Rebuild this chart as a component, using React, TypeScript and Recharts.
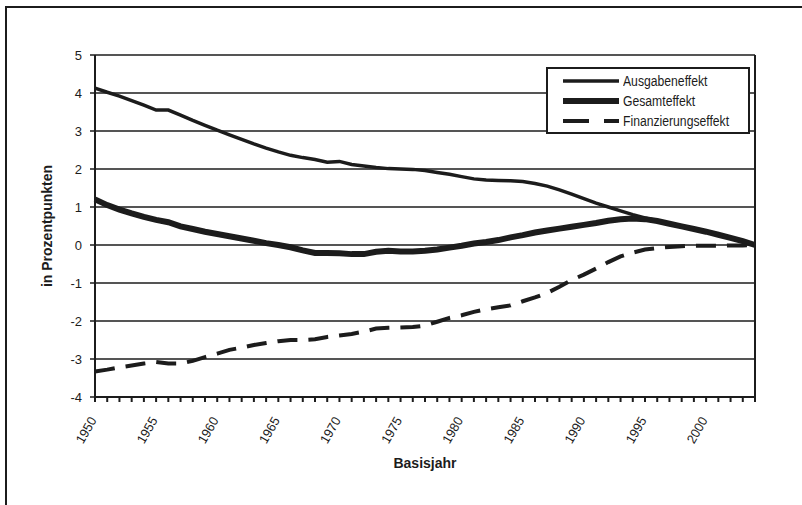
import { LineChart, Line, XAxis, YAxis, CartesianGrid, ReferenceLine } from 'recharts'

const years = [
  1950, 1951, 1952, 1953, 1954, 1955, 1956, 1957, 1958, 1959,
  1960, 1961, 1962, 1963, 1964, 1965, 1966, 1967, 1968, 1969,
  1970, 1971, 1972, 1973, 1974, 1975, 1976, 1977, 1978, 1979,
  1980, 1981, 1982, 1983, 1984, 1985, 1986, 1987, 1988, 1989,
  1990, 1991, 1992, 1993, 1994, 1995, 1996, 1997, 1998, 1999,
  2000, 2001, 2002, 2003, 2004,
]

const ausgabeneffekt = [
  4.13, 4.02, 3.92, 3.8, 3.68, 3.55, 3.55, 3.42, 3.28, 3.15,
  3.02, 2.9, 2.78, 2.66, 2.55, 2.45, 2.36, 2.3, 2.25, 2.18,
  2.2, 2.12, 2.08, 2.04, 2.01, 2.0, 1.99, 1.96, 1.91, 1.86,
  1.8, 1.74, 1.71, 1.7, 1.69, 1.67, 1.62, 1.55, 1.45, 1.34,
  1.22, 1.1, 1.0, 0.9, 0.8, 0.71, 0.64, 0.57, 0.5, 0.43,
  0.36, 0.28, 0.2, 0.1, 0.0,
]

const gesamteffekt = [
  1.2, 1.05, 0.93, 0.83, 0.74, 0.66, 0.6, 0.49, 0.42, 0.35,
  0.29, 0.23, 0.17, 0.11, 0.05, 0.0, -0.06, -0.14, -0.21, -0.21,
  -0.22, -0.24, -0.24, -0.18, -0.15, -0.17, -0.17, -0.15, -0.12, -0.07,
  -0.02, 0.04, 0.08, 0.13, 0.2, 0.26, 0.33, 0.38, 0.43, 0.48,
  0.53, 0.58, 0.64, 0.68, 0.7, 0.68, 0.63, 0.56, 0.49, 0.42,
  0.35, 0.27, 0.19, 0.1, 0.0,
]

const finanzierungseffekt = [
  -3.33, -3.28, -3.22, -3.17, -3.12, -3.08, -3.12, -3.12, -3.05, -2.95,
  -2.86, -2.76, -2.7, -2.63, -2.58, -2.53, -2.5, -2.5, -2.48, -2.42,
  -2.38, -2.34, -2.28, -2.2, -2.18, -2.17, -2.16, -2.12, -2.02, -1.92,
  -1.85, -1.76, -1.69, -1.64, -1.59, -1.48, -1.38, -1.26, -1.1, -0.92,
  -0.78, -0.62, -0.45, -0.3, -0.2, -0.12, -0.08, -0.05, -0.03, -0.02,
  -0.02, -0.02, -0.01, -0.01, 0.0,
]

const yTicks = [-4, -3, -2, -1, 0, 1, 2, 3, 4, 5]

const data = years.map((year, i) => ({
  year,
  Ausgabeneffekt: ausgabeneffekt[i],
  Gesamteffekt: gesamteffekt[i],
  Finanzierungseffekt: finanzierungseffekt[i],
}))

const ink = '#1c1c1c'
const sans = '"Liberation Sans", Arial, sans-serif'

const YearTick = (props: any) => {
  const { x, y, payload } = props
  if (payload.value % 5 !== 0) return <g />
  const tx = x - 2
  const ty = y + 14
  return (
    <text
      x={tx}
      y={ty}
      transform={`rotate(-60, ${tx}, ${ty})`}
      textAnchor="end"
      dominantBaseline="central"
      fontSize={13}
      fontFamily={sans}
      fill={ink}
      textLength={28}
      lengthAdjust="spacingAndGlyphs"
    >
      {payload.value}
    </text>
  )
}

const legendItems = [
  { name: 'Ausgabeneffekt', width: 3.5, dash: undefined },
  { name: 'Gesamteffekt', width: 6, dash: undefined },
  { name: 'Finanzierungseffekt', width: 4, dash: '26 15' },
]

export default function App() {
  return (
    <div
      style={{
        position: 'absolute',
        left: 0,
        top: 0,
        width: 802,
        height: 505,
        overflow: 'hidden',
        background: '#fff',
        fontFamily: sans,
      }}
    >
      <div
        style={{
          position: 'absolute',
          left: 5,
          top: 6,
          width: 800,
          height: 520,
          border: `2px solid ${ink}`,
        }}
      />
      <div style={{ position: 'absolute', left: 0, top: 0 }}>
        <LineChart
          width={802}
          height={505}
          data={data}
          margin={{ top: 55, right: 47, bottom: 58, left: 0 }}
        >
          <CartesianGrid vertical={false} stroke={ink} strokeWidth={1.5} />
          <XAxis
            dataKey="year"
            type="number"
            domain={[1950, 2004]}
            ticks={years}
            interval={0}
            height={50}
            tickSize={5}
            axisLine={{ stroke: ink, strokeWidth: 2 }}
            tickLine={{ stroke: ink, strokeWidth: 2 }}
            tick={<YearTick />}
          />
          <YAxis
            type="number"
            domain={[-4, 5]}
            ticks={yTicks}
            interval={0}
            width={95}
            tickSize={5}
            tickMargin={8}
            axisLine={{ stroke: ink, strokeWidth: 2 }}
            tickLine={{ stroke: ink, strokeWidth: 1.5 }}
            tick={{ fill: ink, fontSize: 13, fontFamily: sans }}
          />
          <ReferenceLine x={2004} stroke={ink} strokeWidth={2} />
          <Line
            type="linear"
            dataKey="Ausgabeneffekt"
            stroke={ink}
            strokeWidth={3.5}
            dot={false}
            isAnimationActive={false}
          />
          <Line
            type="linear"
            dataKey="Gesamteffekt"
            stroke={ink}
            strokeWidth={6}
            dot={false}
            isAnimationActive={false}
          />
          <Line
            type="linear"
            dataKey="Finanzierungseffekt"
            stroke={ink}
            strokeWidth={4}
            strokeDasharray="20 11"
            dot={false}
            isAnimationActive={false}
          />
        </LineChart>
      </div>
      <div
        style={{
          position: 'absolute',
          left: 546,
          top: 67,
          width: 204,
          height: 67,
          boxSizing: 'border-box',
          border: `2px solid ${ink}`,
          background: '#fff',
          paddingTop: 2,
        }}
      >
        {legendItems.map((item) => (
          <div key={item.name} style={{ display: 'flex', alignItems: 'center', height: 20, whiteSpace: 'nowrap' }}>
            <svg width={75} height={20} style={{ flex: 'none' }}>
              <line
                x1={15}
                x2={71}
                y1={10}
                y2={10}
                stroke={ink}
                strokeWidth={item.width}
                strokeDasharray={item.dash}
              />
            </svg>
            <span
              style={{
                display: 'inline-block',
                fontSize: 14,
                color: ink,
                transform: 'scaleX(0.87)',
                transformOrigin: 'left center',
              }}
            >
              {item.name}
            </span>
          </div>
        ))}
      </div>
      <div
        style={{
          position: 'absolute',
          left: 375,
          top: 455,
          width: 100,
          textAlign: 'center',
          fontWeight: 'bold',
          fontSize: 14,
          color: ink,
        }}
      >
        Basisjahr
      </div>
      <div
        style={{
          position: 'absolute',
          left: 47,
          top: 226,
          width: 200,
          textAlign: 'center',
          fontWeight: 'bold',
          fontSize: 14,
          color: ink,
          transform: 'translate(-50%, -50%) rotate(-90deg)',
        }}
      >
        in Prozentpunkten
      </div>
    </div>
  )
}
